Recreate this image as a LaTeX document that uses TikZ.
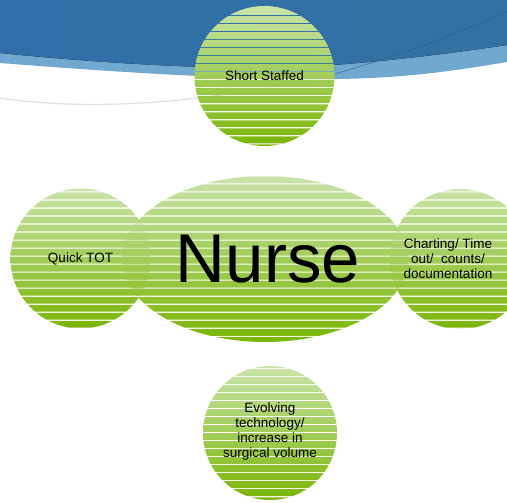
\documentclass[tikz,border=0pt]{standalone}
\usepackage{xcolor}
\usepackage{fontspec}
\setmainfont{Liberation Sans}
\usepackage{tikz}
\usetikzlibrary{shapes.geometric, positioning}

\definecolor{bandDark}{RGB}{47,110,168}
\definecolor{bandMid}{RGB}{62,124,166}
\definecolor{bandRight}{RGB}{52,114,164}
\definecolor{bandLight}{RGB}{112,168,208}
\definecolor{leafTop}{RGB}{201,228,170}
\definecolor{leafMid}{RGB}{178,216,122}
\definecolor{leafBot}{RGB}{122,181,6}

\begin{document}
\begin{tikzpicture}[
  x=1pt, y=-1pt,
  leaf/.style={circle, minimum size=140pt, inner sep=0pt, draw=none,
    top color=leafTop, middle color=leafMid, bottom color=leafBot},
  hub/.style={leaf, ellipse, minimum width=286pt, minimum height=166pt},
  lbl/.style={font=\fontsize{13.5}{15}\selectfont, align=center, text=black},
  big/.style={font=\fontsize{69}{80}\selectfont, text=black}
]
  \useasboundingbox (0,0) rectangle (507,503);
  \clip (0,0) rectangle (507,503);

  %---------------- BACKGROUND SWOOSH ----------------%
  \fill[bandLight] (0,0) -- (507,0) -- (507,62)
    .. controls (430,75) and (380,80) .. (300,79)
    .. controls (200,78) and (90,70) .. (0,63) -- cycle;
  \fill[left color=bandDark, middle color=bandMid, right color=bandRight]
    (0,0) -- (507,0) -- (507,45)
    .. controls (460,52) and (400,60) .. (333,65)
    .. controls (250,72) and (120,65) .. (0,53) -- cycle;
  \draw[bandDark!80!black, opacity=0.5, line width=0.8pt]
    (335,74) .. controls (420,48) .. (507,12);
  \draw[gray!25, line width=1.2pt]
    (0,98) .. controls (80,110) and (170,104) .. (255,90);

  %---------------- STRIPED SHAPES ----------------%
  \begin{scope}
    \clip (0,0) rectangle (507,14.95)
      foreach \k in {0,...,61} {(0,15.5+8.02*\k+0.55) rectangle (507,15.5+8.02*\k+8.02-0.55)};
    \node[hub] (nurse) at (265,259) {};
    \node[leaf] (staff) at (264.5,76) {};
    \node[leaf] (quick) at (80.5,258.5) {};
    \node[leaf] (chart) at (460,259) {};
    \node[leaf, minimum size=134pt] (tech) at (270,433) {};
  \end{scope}

  %---------------- LABELS ----------------%
  \node[lbl] (staff-txt) at (staff) {Short Staffed};
  \node[lbl] (quick-txt) at (quick) {Quick TOT};
  \node[lbl, xshift=-12pt] (chart-txt) at (chart) {Charting/ Time\\out/\ \ counts/\\documentation};
  \node[lbl, yshift=1pt] (tech-txt) at (tech) {Evolving\\technology/\\increase in\\surgical volume};
  \node[big, xshift=3pt] (nurse-txt) at (nurse) {Nurse};

\end{tikzpicture}
\end{document}
